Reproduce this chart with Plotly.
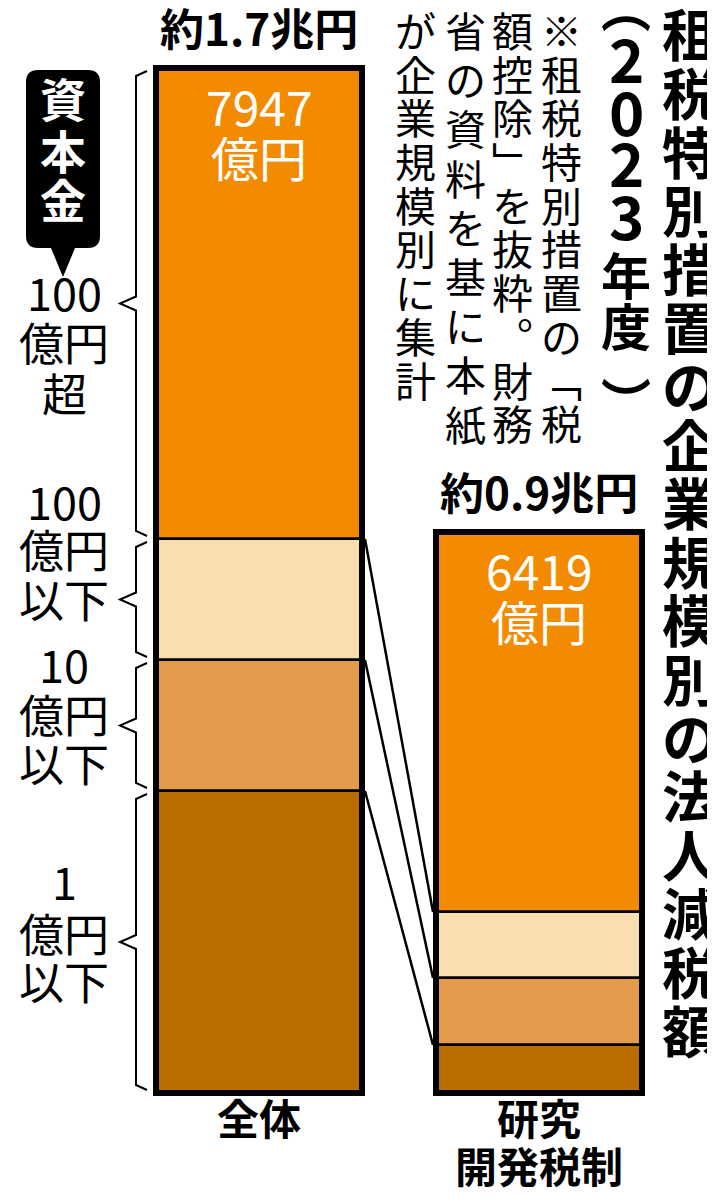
import plotly.graph_objects as go

# values in 億円, listed from the top segment of each bar downwards
sizes = ["100億円超", "100億円以下", "10億円以下", "1億円以下"]
all_firms = [7947, 2042, 2210, 5096]
rd_credit = [6419, 1114, 1131, 810]
groups = ["全体", "研究開発税制"]
group_lines = [["全体"], ["研究", "開発税制"]]
totals_text = ["約1.7兆円", "約0.9兆円"]
size_lines = [["100", "億円", "超"], ["100", "億円", "以下"],
              ["10", "億円", "以下"], ["1", "億円", "以下"]]
title = "租税特別措置の企業規模別の法人減税額"
subtitle = ["︵", "2", "0", "2", "3", "年", "度", "︶"]
note_cols = ["※租税特別措置の﹁税", "額控除﹂を抜粋︒財務",
             "省の資料を基に本紙", "が企業規模別に集計"]
colors = ["#F38B00", "#FADEAF", "#E19B4B", "#BB6E00"]

W, H = 715, 1200
FONT = "Noto Sans CJK JP"
K = 16.873          # 億円 per pixel
ZERO_PX = 1085      # pixel row of the value 0
BOTTOM_PX = 1088    # bottom of the plot area
BW = 206 / 280      # bar width in x units
EDGE = BW / 2 + 3 / 280
LIFT = 0.27         # glyphs sit a bit low in their boxes


def px(x):
    return x / W


def py(y):
    # paper coords follow the plot area, which runs from row 0 to BOTTOM_PX
    return 1 - y / BOTTOM_PX


def bases(vals):
    out = [0] * len(vals)
    acc = 0
    for i in reversed(range(len(vals))):
        out[i] = acc
        acc += vals[i]
    return out


def put(text, x, y, size, color="black", weight="normal", xref="paper", yref="paper",
        yshift=0, lift=True):
    if lift:
        yshift += LIFT * size
    fig.add_annotation(x=x, y=y, xref=xref, yref=yref, text=text, showarrow=False,
                       xanchor="center", yanchor="middle", yshift=yshift,
                       font=dict(family=FONT, size=size, color=color, weight=weight))


base_all = bases(all_firms)
base_rd = bases(rd_credit)
tot = [sum(all_firms), sum(rd_credit)]

fig = go.Figure()

# connector lines between the two bars
for i in range(len(sizes) - 1):
    fig.add_trace(go.Scatter(x=[EDGE, 1 - EDGE], y=[base_all[i], base_rd[i]], mode="lines",
                             line=dict(color="black", width=2.5), hoverinfo="skip", showlegend=False))

for i, name in enumerate(sizes):
    fig.add_trace(go.Bar(x=[0, 1], y=[all_firms[i], rd_credit[i]], base=[base_all[i], base_rd[i]],
                         width=BW, name=name, marker_color=colors[i],
                         marker_line=dict(color="black", width=2.5), showlegend=False))

# thick outline of each whole bar
fig.add_trace(go.Bar(x=[0, 1], y=tot, base=[0, 0], width=BW, marker_color="rgba(0,0,0,0)",
                     marker_line=dict(color="black", width=6), showlegend=False, hoverinfo="skip"))

# braces on the left of the first bar
xh, xv, xp = px(139), px(128), px(112)
for i in range(len(sizes)):
    lo = base_all[i]
    hi = lo + all_firms[i]
    mid = (lo + hi) / 2
    path = (f"M{xh},{hi - 3 * K} L{xv},{hi - 8 * K} L{xv},{mid + 7 * K} L{xp},{mid} "
            f"L{xv},{mid - 7 * K} L{xv},{lo + 8 * K} L{xh},{lo + 3 * K}")
    fig.add_shape(type="path", path=path, xref="paper", yref="y",
                  line=dict(color="black", width=2))

label_y = [[296, 346, 397], [505, 553, 603], [668, 718, 767], [885, 937, 985]]
for lines, ys in zip(size_lines, label_y):
    for t, y in zip(lines, ys):
        put(t, px(56), py(y), 45)


# 資本金 tag
def P(x, y):
    return f"{px(x)},{py(y)}"


tag = (f"M{P(30, 62)} L{P(80, 62)} Q{P(92, 62)} {P(92, 74)} L{P(92, 228)} Q{P(92, 240)} {P(80, 240)} "
       f"L{P(67, 240)} L{P(55, 269)} L{P(43, 240)} L{P(30, 240)} Q{P(18, 240)} {P(18, 228)} "
       f"L{P(18, 74)} Q{P(18, 62)} {P(30, 62)} Z")
fig.add_shape(type="path", path=tag, xref="paper", yref="paper", fillcolor="black", line_width=0)
for ch, y in zip("資本金", [101, 153, 202]):
    put(ch, px(55), py(y), 46, color="white", weight="bold")

# totals above bars, values inside top segments, group names below
for j in range(2):
    fig.add_annotation(x=j, y=tot[j], xref="x", yref="y", text=totals_text[j], showarrow=False,
                       xanchor="center", yanchor="bottom", yshift=7,
                       font=dict(family=FONT, size=44, color="black", weight="bold"))
    top_val = [all_firms[0], rd_credit[0]][j]
    put(str(top_val), j, tot[j], 48, color="white", xref="x", yref="y", yshift=-50)
    put("億円", j, tot[j], 48, color="white", xref="x", yref="y", yshift=-101)
    for k, t in enumerate(group_lines[j]):
        put(t, j, py(1120 + 48 * k), 42, weight="bold", xref="x")

# vertical title, subtitle and note
for k, ch in enumerate(title):
    put(ch, px(682), py(39 + 58.6 * k), 56, weight="bold")
sub_y = [25, 65, 118, 169, 222, 278, 330, 376]
for ch, y in zip(subtitle, sub_y):
    if ch == "︵":
        put(ch, px(618), py(y), 50, weight="bold", yshift=28, lift=False)
    elif ch == "︶":
        put(ch, px(618), py(y), 50, weight="bold", yshift=-15, lift=False)
    elif ch.isdigit():
        put(ch, px(618), py(y), 60, weight="bold")
    else:
        put(ch, px(618), py(y), 50, weight="bold")
note_x = [553, 504, 457, 408]
note_step = [43.7, 43.7, 49.2, 43.7]
for col, x, st in zip(note_cols, note_x, note_step):
    for k, ch in enumerate(col):
        put(ch, px(x), py(32 + st * k), 41)

fig.update_layout(
    width=W, height=H, barmode="overlay", bargap=0,
    margin=dict(l=0, r=0, t=0, b=H - BOTTOM_PX),
    paper_bgcolor="white", plot_bgcolor="white",
    xaxis=dict(range=[-251 / 280, (W - 251) / 280], visible=False, fixedrange=True),
    yaxis=dict(range=[(ZERO_PX - BOTTOM_PX) * K, ZERO_PX * K], visible=False, fixedrange=True),
    showlegend=False,
)

fig.write_html("out.html")
